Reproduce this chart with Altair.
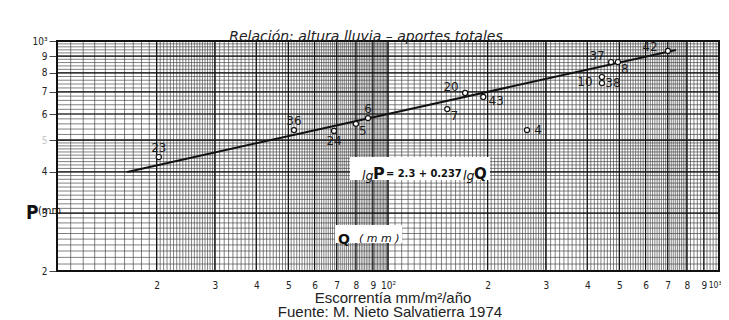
import altair as alt
import pandas as pd

# ---- data ----
station = ["23", "36", "24", "5", "6", "7", "20", "43", "4", "37", "8", "10", "38", "42"]
q_mm = [20.3, 52.0, 68.7, 80.0, 87.0, 151, 171, 194, 263, 472, 495, 443, 443, 701]
p_mm = [444, 536, 533, 560, 583, 621, 695, 676, 536, 863, 863, 777, 745, 933]
placement = ["N", "N", "S", "SE", "N", "SE", "NW", "ESE", "E", "NW", "SE", "W", "E", "WNW"]

fit_q = [16.3, 741]
fit_p = [400, 939]

x_ticks = [20, 30, 40, 50, 60, 70, 80, 90, 100, 200, 300, 400, 500, 600, 700, 800, 900, 1000]
y_ticks = [200, 300, 400, 500, 600, 700, 800, 900, 1000]


def steps(a, b, s):
    n = int(round((b - a) / s))
    return [a + i * s for i in range(n + 1)]


x_minor = (steps(10, 20, 1) + steps(20, 30, 0.5) + steps(30, 100, 1) + steps(100, 300, 5)
           + steps(300, 800, 10) + steps(800, 1000, 20))
y_minor = steps(200, 500, 10) + steps(500, 1000, 20)
x_major = [10] + x_ticks
y_major = y_ticks

W, H = 662, 230

xs = alt.Scale(type="log", domain=[10, 1000], nice=False)
ys = alt.Scale(type="log", domain=[200, 1000], nice=False)

pts = pd.DataFrame({"Q": q_mm, "P": p_mm, "station": station, "pos": placement})
fit = pd.DataFrame({"Q": fit_q, "P": fit_p})

x_axis = alt.Axis(values=x_ticks, title=None, grid=False, domain=False, ticks=False,
                  labelPadding=9, labelFont="DejaVu Sans Condensed",
                  labelFontSize={"condition": {"test": "datum.value == 1000", "value": 8.5},
                                 "value": 10},
                  labelColor="#222", labelOverlap=False, labelFlush=False,
                  labelAlign={"condition": {"test": "datum.value == 1000", "value": "right"},
                              "value": "center"},
                  labelOffset={"condition": {"test": "datum.value == 1000", "value": 2},
                               "value": 0},
                  labelExpr="datum.value == 1000 ? '10³' : datum.value == 100 ? '10²' : "
                            "(datum.value < 100 ? format(datum.value/10,'d') : format(datum.value/100,'d'))")
y_axis = alt.Axis(values=y_ticks, title=None, grid=False, domain=False, ticks=True, tickSize=8,
                  tickColor="#444", labelPadding=2, labelFontSize=10, labelFont="DejaVu Sans Condensed",
                  labelOverlap=False, labelFlush=False,
                  labelColor={"condition": {"test": "datum.value == 500", "value": "#c8c8c8"},
                              "value": "#222"},
                  labelExpr="datum.value == 1000 ? '10³' : format(datum.value/100,'d')")

# grid
gx_minor = alt.Chart(pd.DataFrame({"Q": x_minor})).mark_rule(color="#3c3c3c", strokeWidth=0.65).encode(
    x=alt.X("Q:Q", scale=xs, axis=x_axis))
gy_minor = alt.Chart(pd.DataFrame({"P": y_minor})).mark_rule(color="#3c3c3c", strokeWidth=0.65).encode(
    y=alt.Y("P:Q", scale=ys, axis=y_axis))
gx_major = alt.Chart(pd.DataFrame({"Q": x_major})).mark_rule(color="#111", strokeWidth=1.2).encode(
    x=alt.X("Q:Q", scale=xs))
gy_major = alt.Chart(pd.DataFrame({"P": y_major})).mark_rule(color="#111", strokeWidth=1.2).encode(
    y=alt.Y("P:Q", scale=ys))

one = pd.DataFrame({"a": [0]})
frame = alt.Chart(one).mark_rect(fill=None, stroke="#111", strokeWidth=2).encode(
    x=alt.value(0), x2=alt.value(W), y=alt.value(0), y2=alt.value(H))

line = alt.Chart(fit).mark_line(color="#111", strokeWidth=2).encode(
    x=alt.X("Q:Q", scale=xs), y=alt.Y("P:Q", scale=ys))

points = alt.Chart(pts).mark_point(shape="circle", size=26, fill="white", fillOpacity=1,
                                   stroke="#111", strokeWidth=1.2, opacity=1).encode(
    x=alt.X("Q:Q", scale=xs), y=alt.Y("P:Q", scale=ys))

offsets = {"N": (0, -9), "S": (0, 10), "SE": (7, 7), "NW": (-14, -6), "ESE": (13, 4),
           "E": (11, 0), "W": (-17, 5), "WNW": (-18, -4)}
label_layers = []
for k, (dx, dy) in offsets.items():
    label_layers.append(
        alt.Chart(pts).transform_filter(alt.datum.pos == k).mark_text(
            dx=dx, dy=dy, fontSize=12, font="DejaVu Sans", color="#1a1a1a",
            align="center", baseline="middle").encode(
            x=alt.X("Q:Q", scale=xs), y=alt.Y("P:Q", scale=ys), text="station:N"))


def txt(s, x, y, size, **kw):
    return alt.Chart(one).mark_text(text=s, fontSize=size, **kw).encode(
        x=alt.value(x), y=alt.value(y))


def box(x1, x2, y1, y2):
    return alt.Chart(one).mark_rect(fill="white", stroke=None).encode(
        x=alt.value(x1), x2=alt.value(x2), y=alt.value(y1), y2=alt.value(y2))


annot = [
    box(293, 433, 116, 139),
    txt("lg", 305, 135, 12.5, fontStyle="italic", align="left", font="DejaVu Sans", color="#111"),
    txt("P", 316, 133, 16, fontWeight="bold", align="left", font="DejaVu Sans", color="#111"),
    txt("= 2.3 + 0.237", 329, 133, 11, align="left", font="DejaVu Sans Condensed", fontWeight="bold", color="#111"),
    txt("lg", 406, 135, 12.5, fontStyle="italic", align="left", font="DejaVu Sans", color="#111"),
    txt("Q", 417, 133, 15, fontWeight="bold", align="left", font="DejaVu Sans", color="#111"),
    box(278, 345, 184, 202),
    txt("Q", 281, 199, 14, fontWeight="bold", align="left", font="DejaVu Sans", color="#111"),
    txt("( m m )", 302, 198, 11, fontStyle="italic", align="left", font="DejaVu Sans", color="#111"),
    txt("Relación:  altura  lluvia – aportes  totales", 309, -4, 14, fontStyle="italic",
        align="center", font="DejaVu Sans", color="#222"),
    txt("Escorrentía mm/m²/año", 336, 257, 15, align="center", font="Liberation Sans", color="#222"),
    txt("Fuente: M. Nieto Salvatierra 1974", 333, 271, 15, align="center", font="Liberation Sans", color="#222"),
    txt("P", -31, 172, 19, fontWeight="bold", align="left", font="DejaVu Sans Condensed", color="#111"),
    txt("(mm", -19, 170, 11, align="left", font="DejaVu Sans Condensed", color="#111"),
]

chart = alt.layer(gx_minor, gy_minor, gx_major, gy_major, frame, line, points,
                  *label_layers, *annot).properties(
    width=W, height=H,
    padding={"left": 49, "top": 33, "right": 2, "bottom": 49},
    autosize=alt.AutoSizeParams(type="none"),
    background="white",
).configure_view(stroke=None)

chart.save("out.html", embed_options={"renderer": "svg", "actions": False})
